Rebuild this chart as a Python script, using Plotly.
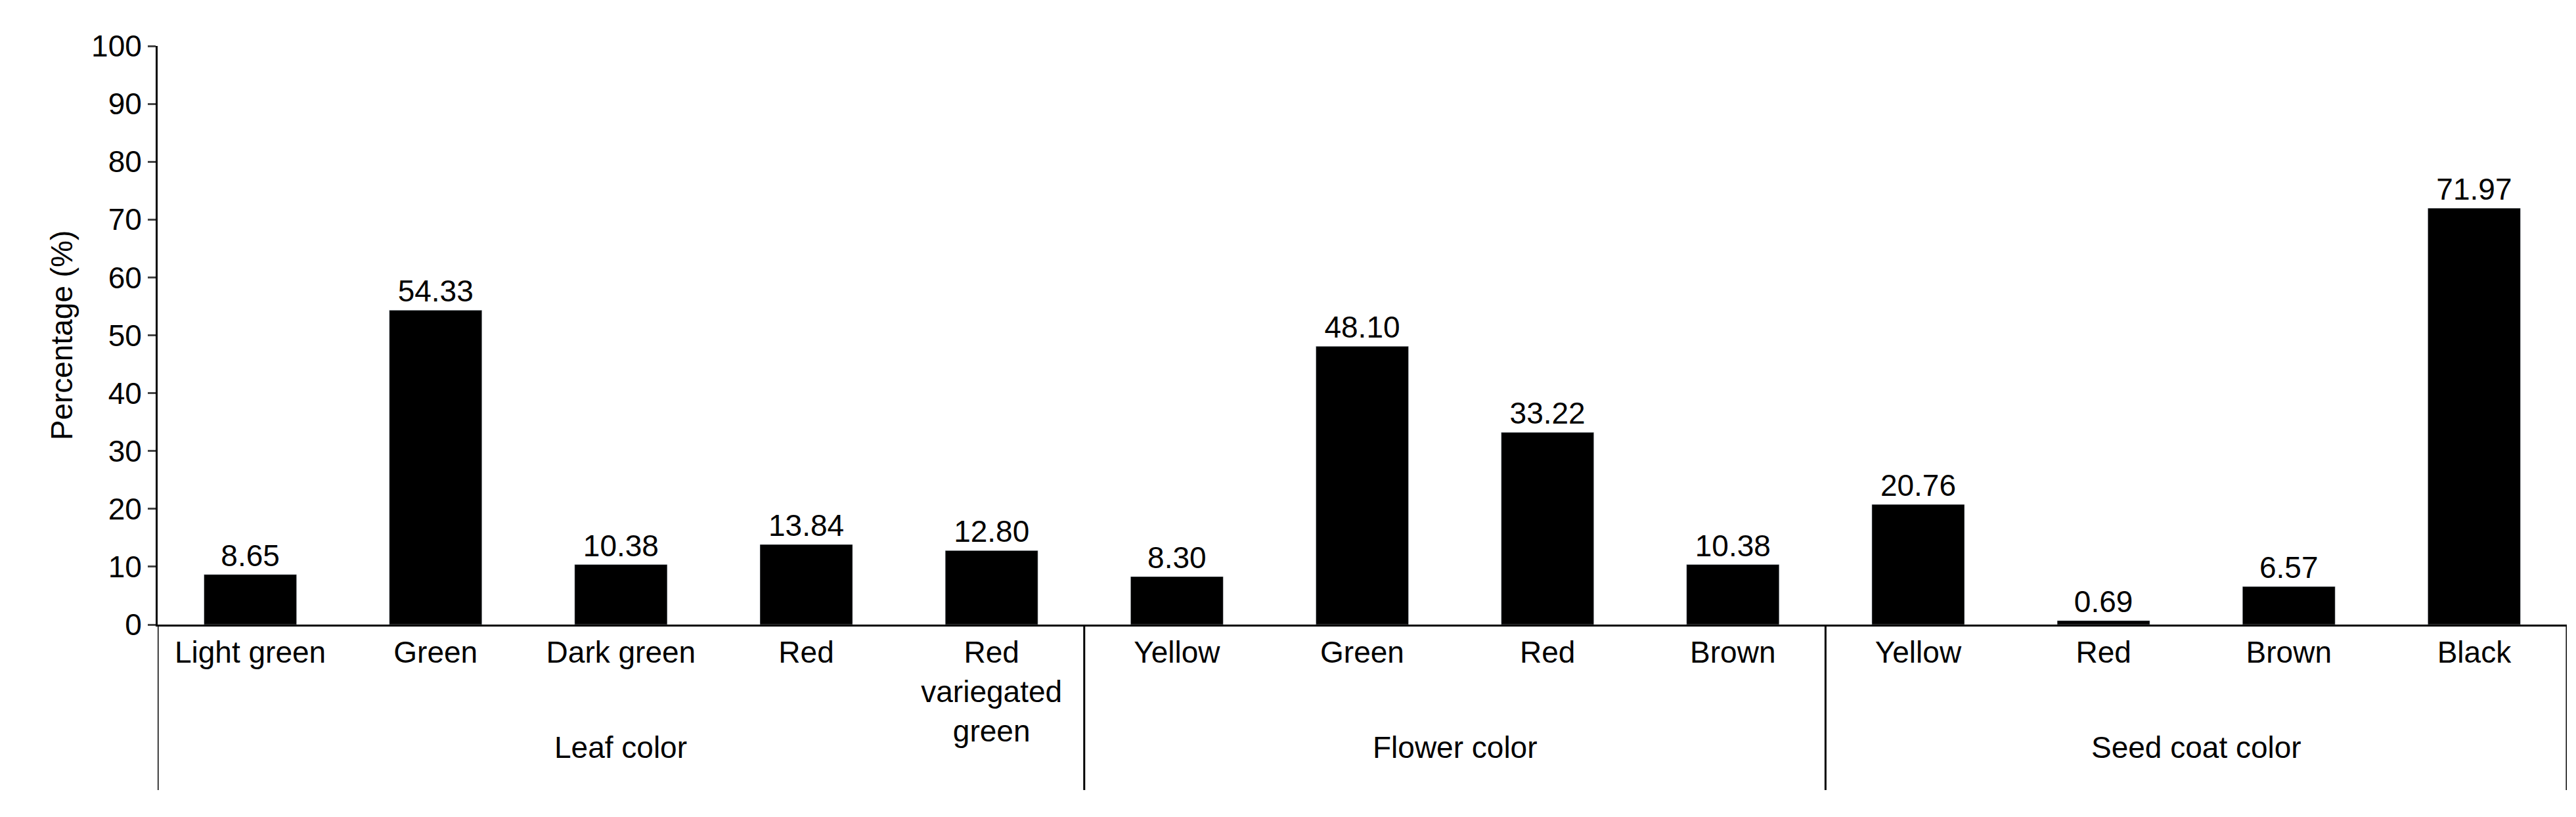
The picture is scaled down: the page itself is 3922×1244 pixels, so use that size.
import plotly.graph_objects as go

categories = ["Light green", "Green", "Dark green", "Red", "Red<br>variegated<br>green",
              "Yellow", "Green", "Red", "Brown",
              "Yellow", "Red", "Brown", "Black"]
values = [8.65, 54.33, 10.38, 13.84, 12.80, 8.30, 48.10, 33.22, 10.38, 20.76, 0.69, 6.57, 71.97]
groups = ["Leaf color", "Flower color", "Seed coat color"]
group_sizes = [5, 4, 4]

xs = list(range(len(values)))
F = "Liberation Sans, Arial, sans-serif"
S = 46
fig = go.Figure(go.Bar(x=xs, y=values, width=0.5, marker_color="black",
                       text=[f"{v:.2f}" for v in values], textposition="outside",
                       textfont=dict(size=S, color="black", family=F), cliponaxis=False))

shapes = []
annotations = []
start = -0.5
bounds = [start]
for g, n in zip(groups, group_sizes):
    end = start + n
    annotations.append(dict(x=(start + end) / 2, y=-0.244, xref="x", yref="paper", text=g,
                            showarrow=False, font=dict(size=S, family=F, color="black")))
    start = end
    bounds.append(end)
for b in bounds:
    shapes.append(dict(type="line", x0=b, x1=b, xref="x", yref="paper", y0=0, y1=-0.286,
                       line=dict(color="black", width=3)))

fig.update_layout(
    width=3922, height=1244, plot_bgcolor="white", paper_bgcolor="white",
    margin=dict(l=232, r=22, t=62, b=301), showlegend=False,
    font=dict(family=F, size=S, color="black"),
    shapes=shapes, annotations=annotations,
    xaxis=dict(range=[-0.5, 12.5], tickvals=xs, ticktext=categories, showline=True,
               linecolor="black", linewidth=3, ticks="", showgrid=False, tickangle=0,
               tickfont=dict(size=S)),
    yaxis=dict(range=[0, 100], dtick=10, showline=True, linecolor="black", linewidth=3,
               ticks="outside", ticklen=12, tickwidth=3, showgrid=False, zeroline=False,
               title=dict(text="Percentage (%)", font=dict(size=S), standoff=14),
               tickfont=dict(size=S)),
)
fig.write_html("out.html")
